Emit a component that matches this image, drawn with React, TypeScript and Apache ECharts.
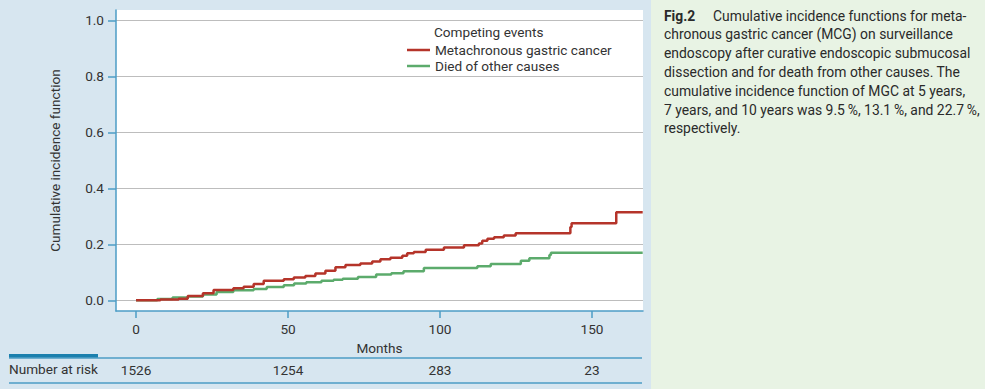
import React, { useEffect, useRef } from 'react';
import * as echarts from 'echarts';

const FONT = 'Roboto, "Noto Sans", sans-serif';

// Metachronous gastric cancer: [month, cumulative incidence] (step function)
const mgcMonths = [0, 8, 14, 17, 22, 25.5, 32, 35.4, 38.7, 42, 48.6, 51.9, 55.7, 59, 62.3, 65.6, 68.9, 73.8, 77.7, 80.4, 83.7, 87.6, 89.2, 91.4, 95.3, 101.3, 107.9, 112.8, 113.9, 115.6, 117.8, 121, 124.9, 142.9, 143.3, 158, 166.7];
const mgcValues = [0, 0.003, 0.006, 0.016, 0.025, 0.037, 0.043, 0.049, 0.058, 0.07, 0.075, 0.082, 0.087, 0.096, 0.106, 0.118, 0.126, 0.132, 0.139, 0.147, 0.152, 0.159, 0.168, 0.1725, 0.181, 0.189, 0.197, 0.203, 0.213, 0.22, 0.225, 0.232, 0.24, 0.262, 0.275, 0.315, 0.315];

// Died of other causes
const deathMonths = [0, 7, 12, 17, 22, 26.5, 32, 38.7, 43, 48.6, 52, 56, 61, 65, 68, 73, 79, 84, 88, 94.7, 112.3, 116.7, 126.6, 129.4, 136, 136.5, 166.7];
const deathValues = [0, 0.005, 0.01, 0.014, 0.021, 0.03, 0.036, 0.041, 0.048, 0.054, 0.06, 0.065, 0.07, 0.074, 0.077, 0.083, 0.092, 0.097, 0.104, 0.116, 0.122, 0.13, 0.1415, 0.15, 0.162, 0.17, 0.17];

const seriesNames = ['Metachronous gastric cancer', 'Died of other causes'];
const legendTitle = 'Competing events';
const xTicks = [0, 50, 100, 150];
const yTicks = [0, 0.2, 0.4, 0.6, 0.8, 1.0];
const riskMonths = [0, 50, 100, 150];
const riskCounts = [1526, 1254, 283, 23];

const captionBold = 'Fig.2';
const captionLines = [
  'Cumulative incidence functions for meta-',
  'chronous gastric cancer (MCG) on surveillance',
  'endoscopy after curative endoscopic submucosal',
  'dissection and for death from other causes. The',
  'cumulative incidence function of MGC at 5 years,',
  '7 years, and 10 years was 9.5\u2009%, 13.1\u2009%, and 22.7\u2009%,',
  'respectively.',
];

const AXIS_BLUE = '#4d9dc6';
const TEXT = '#333333';
const FS = 13.6;
const CFS = 13.9;

export default function App() {
  const ref = useRef<HTMLDivElement>(null);

  useEffect(() => {
    const chart = echarts.init(ref.current!, null, { renderer: 'svg' });
    const zip = (a: number[], b: number[]) => a.map((m, i) => [m, b[i]]);

    const captionGraphics: any[] = [
      {
        type: 'text',
        left: 664,
        top: 8.5,
        style: { text: captionBold, font: `bold ${CFS}px ${FONT}`, fill: '#2a2a2a' },
      },
    ];
    captionLines.forEach((line, i) => {
      captionGraphics.push({
        type: 'text',
        left: i === 0 ? 713 : 664,
        top: 8.5 + i * 18.8,
        style: { text: line, font: `${CFS}px ${FONT}`, fill: '#2a2a2a' },
      });
    });

    chart.setOption({
      animation: false,
      backgroundColor: '#d7e6f0',
      textStyle: { fontFamily: FONT },
      grid: {
        left: 116,
        top: 10,
        right: 342,
        bottom: 78,
        show: true,
        backgroundColor: '#ffffff',
        borderWidth: 0,
      },
      legend: {
        data: seriesNames.map((n) => ({ name: n, icon: 'rect' })),
        orient: 'vertical',
        left: 402,
        top: 37,
        itemWidth: 23,
        itemHeight: 2.5,
        itemGap: 0,
        textStyle: { fontSize: FS, color: TEXT, fontFamily: FONT, lineHeight: 16 },
      },
      xAxis: [
        {
          type: 'value',
          min: -6.6,
          max: 166.8,
          position: 'bottom',
          axisLine: { show: true, onZero: false, lineStyle: { color: AXIS_BLUE, width: 1.5 } },
          axisTick: { show: true, customValues: xTicks, length: 7, lineStyle: { color: AXIS_BLUE, width: 1.5 } },
          axisLabel: { customValues: xTicks, fontSize: FS, color: TEXT, margin: 11 },
          splitLine: { show: false },
          name: 'Months',
          nameLocation: 'middle',
          nameGap: 23,
          nameTextStyle: { fontSize: FS, color: TEXT },
        },
        {
          type: 'value',
          min: -6.6,
          max: 166.8,
          position: 'bottom',
          offset: 52,
          axisLine: { show: false, onZero: false },
          axisTick: { show: false },
          axisLabel: {
            customValues: riskMonths,
            fontSize: FS,
            color: TEXT,
            margin: 0,
            formatter: (v: number) => String(riskCounts[riskMonths.indexOf(v)]),
          },
          splitLine: { show: false },
        },
      ],
      yAxis: {
        type: 'value',
        min: -0.038,
        max: 1.037,
        axisLine: { show: true, onZero: false, lineStyle: { color: AXIS_BLUE, width: 1.5 } },
        axisTick: { show: true, customValues: yTicks, length: 8, lineStyle: { color: AXIS_BLUE, width: 1.5 } },
        axisLabel: {
          customValues: yTicks,
          fontSize: FS,
          color: TEXT,
          margin: 12,
          formatter: (v: number) => v.toFixed(1),
        },
        splitLine: { show: true, lineStyle: { color: '#bdbdbd', width: 1 } },
        name: 'Cumulative incidence function',
        nameLocation: 'middle',
        nameGap: 54,
        nameTextStyle: { fontSize: FS, color: TEXT },
      },
      series: [
        {
          name: seriesNames[0],
          type: 'line',
          step: 'end',
          symbol: 'none',
          data: zip(mgcMonths, mgcValues),
          lineStyle: { color: '#b5342a', width: 2.5 },
          itemStyle: { color: '#b5342a' },
          z: 3,
        },
        {
          name: seriesNames[1],
          type: 'line',
          step: 'end',
          symbol: 'none',
          data: zip(deathMonths, deathValues),
          lineStyle: { color: '#5cab6c', width: 2.5 },
          itemStyle: { color: '#5cab6c' },
          z: 2,
        },
      ],
      graphic: [
        { type: 'rect', shape: { x: 651, y: 0, width: 334, height: 389 }, style: { fill: '#e8f3e4' }, z: -10, silent: true },
        {
          type: 'text',
          left: 434,
          top: 25,
          style: { text: legendTitle, font: `${FS}px ${FONT}`, fill: TEXT },
        },
        { type: 'line', shape: { x1: 9, y1: 358, x2: 642, y2: 358 }, style: { stroke: AXIS_BLUE, lineWidth: 1.5 } },
        { type: 'line', shape: { x1: 9, y1: 383, x2: 642, y2: 383 }, style: { stroke: AXIS_BLUE, lineWidth: 1.5 } },
        { type: 'rect', shape: { x: 9, y: 354, width: 89, height: 3.5 }, style: { fill: '#1b80ae' } },
        {
          type: 'text',
          left: 9,
          top: 362,
          style: { text: 'Number at risk', font: `${FS}px ${FONT}`, fill: TEXT },
        },
        ...captionGraphics,
      ],
    });

    return () => chart.dispose();
  }, []);

  return (
    <div
      ref={ref}
      style={{ position: 'absolute', left: 0, top: 0, width: 985, height: 389 }}
    />
  );
}
